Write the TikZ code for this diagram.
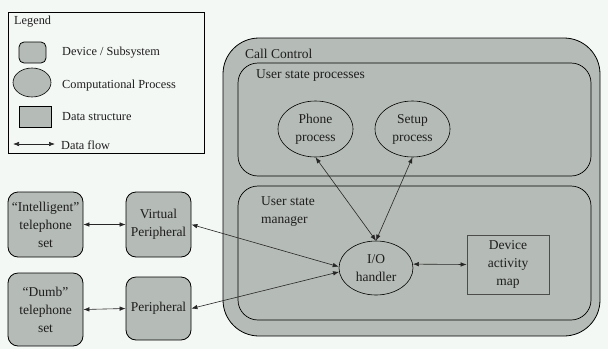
\documentclass[tikz,border=0pt]{standalone}
\usepackage{fontspec}
\setmainfont{Liberation Serif}
\usetikzlibrary{arrows.meta,shapes.geometric}
\definecolor{bg}{RGB}{244,248,245}
\definecolor{gfill}{RGB}{181,187,182}
\definecolor{txt}{RGB}{30,30,30}
\tikzset{
  main/.style={font=\fontsize{13.5}{18}\selectfont,text=txt,align=center,inner sep=0pt},
  leg/.style={font=\fontsize{12.3}{15}\selectfont,text=txt,anchor=west,inner sep=0pt},
  device/.style={main,draw=black,fill=gfill,rounded corners=10pt,line width=0.8pt},
  proc/.style={main,draw=black,fill=gfill,ellipse,line width=0.6pt},
  datastr/.style={main,draw=black!70,fill=gfill,line width=0.8pt},
  flow/.style={{Latex[length=6pt,width=4.5pt]}-{Latex[length=6pt,width=4.5pt]},line width=0.6pt,draw=black!85}
}
\begin{document}
\begin{tikzpicture}[x=1pt,y=-1pt]
\useasboundingbox[fill=bg] (0,0) rectangle (608,349);
% Legend
\node[draw=black,line width=0.7pt,fill=bg,minimum width=196pt,minimum height=141pt,inner sep=0pt] (legend) at (106,82.5) {};
\node[leg] (legtitle) at (14,22) {Legend};
\node[device,minimum width=27pt,minimum height=21pt,rounded corners=5pt] (ldev) at (32.5,52.5) {};
\node[proc,minimum width=38pt,minimum height=29pt] (lproc) at (32,82.5) {};
\node[datastr,draw=black,minimum width=32pt,minimum height=21pt] (ldata) at (35,116.5) {};
\coordinate (la) at (13,144);
\coordinate (lb) at (55,144);
\draw[flow] (la) -- (lb);
\node[leg] (t1) at (62,53) {Device / Subsystem};
\node[leg] (t2) at (62,86) {Computational Process};
\node[leg] (t3) at (62,117) {Data structure};
\node[leg] (t4) at (61,145) {Data flow};
% Call control
\node[draw=black,fill=gfill,line width=0.8pt,rounded corners=36pt,minimum width=377pt,minimum height=298pt,inner sep=0pt] (cc) at (411.5,187) {};
\node[main,anchor=west] (cctext) at (245,54) {Call Control};
\node[draw=black,line width=0.7pt,rounded corners=20pt,minimum width=353pt,minimum height=113pt,inner sep=0pt] (usp) at (414.5,119.5) {};
\node[main,anchor=west] (usptext) at (256,76) {User state processes};
\node[draw=black,line width=0.7pt,rounded corners=20pt,minimum width=353pt,minimum height=134pt,inner sep=0pt] (usm) at (414.5,253) {};
\node[main,anchor=north west,align=left] (usmtext) at (261,196) {User state\\manager};
% processes
\node[proc,minimum width=75pt,minimum height=56pt] (phone) at (315.5,129) {Phone\\process};
\node[proc,minimum width=75pt,minimum height=56pt] (setup) at (412.5,129) {Setup\\process};
\node[proc,minimum width=74pt,minimum height=54pt] (io) at (376,268) {I/O\\handler};
\node[datastr,minimum width=82pt,minimum height=59pt] (dev) at (508,264.5) {Device\\activity\\map};
% devices
\node[device,minimum width=75pt,minimum height=65pt] (intel) at (45.5,224.5) {“Intelligent”\\telephone\\set};
\node[device,minimum width=65pt,minimum height=65pt] (virt) at (158.5,224.5) {Virtual\\Peripheral};
\node[device,minimum width=75pt,minimum height=73pt] (dumb) at (45.5,309.5) {“Dumb”\\telephone\\set};
\node[device,minimum width=65pt,minimum height=63pt] (periph) at (158.5,308.5) {Peripheral};
% flows
\draw[flow] (intel.east) -- (virt.west);
\draw[flow] (dumb.east) -- (periph.west);
\draw[flow] (virt.east) -- (io.178);
\draw[flow] (periph.east) -- (io.186);
\draw[flow] (phone.south) -- (io.north);
\draw[flow] (setup.south) -- (io.north);
\draw[flow] (io.6) -- (dev.west);
\end{tikzpicture}
\end{document}
